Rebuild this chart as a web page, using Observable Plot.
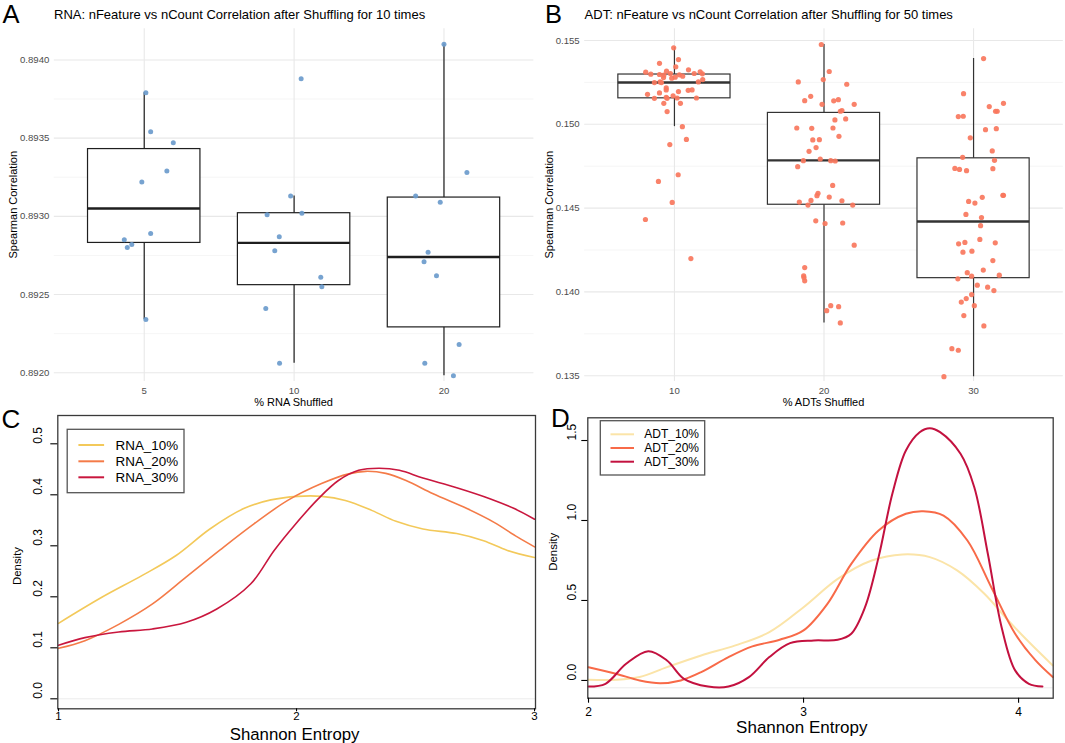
<!DOCTYPE html>
<html><head><meta charset="utf-8">
<script src="https://cdn.jsdelivr.net/npm/d3@7"></script>
<script src="https://cdn.jsdelivr.net/npm/@observablehq/plot@0.6"></script>
<style>
html,body{margin:0;padding:0;background:#fff;}
#root{position:relative;width:1065px;height:743px;overflow:hidden;background:#fff;font-family:"Liberation Sans",Arial,Helvetica,sans-serif;}
#root svg{position:absolute;}
</style></head>
<body><div id="root"></div>
<script>
// ---------------- Panel A data (RNA) ----------------
const rnaGroups = ["5", "10", "20"];
const rnaJitter5  = [0.011, 0.043, 0.194, 0.151, -0.016, 0.043, -0.133, -0.113, -0.083, 0.011];
const rnaValues5  = [0.89379, 0.89354, 0.89347, 0.89329, 0.89322, 0.89289, 0.89285, 0.89280, 0.89282, 0.89234];
const rnaJitter10 = [0.047, -0.023, -0.180, 0.052, -0.099, -0.129, 0.178, 0.185, -0.189, -0.097];
const rnaValues10 = [0.89388, 0.89313, 0.89301, 0.89302, 0.89287, 0.89278, 0.89261, 0.89255, 0.89241, 0.89206];
const rnaJitter20 = [0.000, 0.153, -0.189, -0.025, -0.106, -0.133, -0.050, 0.101, -0.128, 0.063];
const rnaValues20 = [0.89410, 0.89328, 0.89313, 0.89309, 0.89277, 0.89271, 0.89262, 0.89218, 0.89206, 0.89198];
const rnaLo  = [0.89234, 0.89206, 0.89198];
const rnaQ1  = [0.89283, 0.89256, 0.89229];
const rnaMed = [0.89305, 0.89283, 0.89274];
const rnaQ3  = [0.89343, 0.89302, 0.89312];
const rnaHi  = [0.89379, 0.89313, 0.89410];
const rnaYTicks = [0.8920, 0.8925, 0.8930, 0.8935, 0.8940];
const rnaYMinor = [0.89225, 0.89275, 0.89325, 0.89375];

// ---------------- Panel B data (ADT) ----------------
const adtGroups = ["10", "20", "30"];
const adtJitter10 = [-0.005,0.027,-0.100,0.009,-0.192,-0.158,-0.053,-0.100,-0.071,-0.027,0.094,0.033,0.055,0.132,0.172,0.187,-0.073,-0.018,0.005,-0.134,-0.096,-0.087,0.160,0.189,-0.055,-0.055,0.027,0.092,0.118,-0.180,-0.100,-0.134,-0.055,-0.049,-0.009,0.018,0.147,-0.071,0.040,-0.049,0.053,0.080,-0.031,0.025,-0.107,-0.015,-0.194,0.110];
const adtValues10 = [0.15456,0.15386,0.15364,0.15343,0.15311,0.15299,0.15317,0.15297,0.15293,0.15303,0.15325,0.15295,0.15287,0.15303,0.15313,0.15301,0.15279,0.15275,0.15281,0.15249,0.15253,0.15249,0.15253,0.15267,0.15217,0.15205,0.15195,0.15203,0.15205,0.15179,0.15187,0.15155,0.15161,0.15155,0.15170,0.15157,0.15157,0.15125,0.15125,0.15076,0.14986,0.14910,0.14879,0.14699,0.14659,0.14534,0.14432,0.14199];
const adtJitter20 = [-0.018,0.035,-0.172,-0.005,0.152,-0.089,-0.129,-0.013,0.065,0.096,0.202,0.109,0.120,0.073,0.145,-0.182,-0.082,0.060,0.100,-0.075,-0.031,-0.053,-0.100,-0.138,-0.025,0.045,0.075,-0.176,0.058,-0.040,-0.047,0.035,-0.087,-0.165,0.120,-0.107,0.192,-0.055,0.007,0.125,0.202,-0.129,-0.136,-0.134,-0.129,0.045,0.098,0.018,0.109];
const adtValues20 = [0.15476,0.15315,0.15253,0.15267,0.15239,0.15167,0.15141,0.15119,0.15140,0.15147,0.15119,0.15078,0.15082,0.15026,0.15032,0.14978,0.14976,0.14978,0.14928,0.14907,0.14908,0.14861,0.14839,0.14783,0.14793,0.14783,0.14781,0.14747,0.14635,0.14588,0.14574,0.14566,0.14546,0.14536,0.14544,0.14518,0.14518,0.14424,0.14408,0.14411,0.14279,0.14145,0.14096,0.14086,0.14066,0.13918,0.13912,0.13888,0.13815];
const adtJitter30 = [0.200,0.105,0.147,0.158,-0.102,-0.069,0.080,0.152,-0.022,0.125,-0.073,0.140,-0.125,-0.094,-0.047,0.129,0.196,0.200,0.058,-0.033,0.009,-0.051,0.053,0.047,0.042,-0.100,-0.058,0.145,-0.071,-0.011,0.129,0.065,-0.042,-0.013,-0.105,0.172,0.025,0.094,0.136,-0.013,-0.049,-0.082,0.005,-0.065,0.069,-0.145,-0.102,-0.198,0.067,-0.067];
const adtValues30 = [0.15125,0.15106,0.15078,0.15078,0.15046,0.15048,0.14968,0.14974,0.14919,0.14841,0.14803,0.14785,0.14737,0.14731,0.14723,0.14735,0.14576,0.14576,0.14564,0.14540,0.14530,0.14462,0.14444,0.14395,0.14313,0.14287,0.14295,0.14293,0.14237,0.14243,0.14187,0.14130,0.14115,0.14094,0.14078,0.14100,0.14040,0.14028,0.14008,0.13984,0.13960,0.13939,0.13918,0.13859,0.13797,0.13661,0.13652,0.13494,0.15392,0.15183];
const adtLo  = [0.14986, 0.13815, 0.13494];
const adtQ1  = [0.15155, 0.14520, 0.14082];
const adtMed = [0.15249, 0.14785, 0.14420];
const adtQ3  = [0.15297, 0.15068, 0.14797];
const adtHi  = [0.15458, 0.15476, 0.15392];
const adtYTicks = [0.135, 0.140, 0.145, 0.150, 0.155];
const adtYMinor = [0.1375, 0.1425, 0.1475, 0.1525];

// ---------------- Panel C data (RNA entropy densities) ----------------
const rnaSeries = ["RNA_10%", "RNA_20%", "RNA_30%"];
const rnaColors = ["#f3c95a", "#f47b48", "#c9173e"];
const rna10X = [1.0,1.182,1.352,1.494,1.636,1.778,1.892,2.006,2.105,2.205,2.318,2.418,2.531,2.673,2.786,2.886,3.0];
const rna10Y = [0.148,0.199,0.242,0.281,0.333,0.373,0.390,0.397,0.397,0.389,0.369,0.348,0.333,0.324,0.310,0.291,0.277];
const rna20X = [1.0,1.111,1.253,1.395,1.537,1.679,1.821,1.963,2.105,2.219,2.290,2.375,2.460,2.574,2.716,2.830,2.929,3.0];
const rna20Y = [0.099,0.114,0.146,0.186,0.239,0.292,0.343,0.389,0.422,0.441,0.446,0.442,0.428,0.402,0.373,0.346,0.317,0.298];
const rna30X = [1.0,1.111,1.253,1.395,1.537,1.665,1.807,1.906,1.991,2.091,2.176,2.261,2.347,2.432,2.531,2.673,2.815,2.915,3.0];
const rna30Y = [0.105,0.120,0.131,0.137,0.150,0.176,0.225,0.291,0.340,0.392,0.428,0.448,0.452,0.448,0.433,0.414,0.392,0.373,0.352];
const cXTicks = [1, 2, 3];
const cYTicks = [0, 0.1, 0.2, 0.3, 0.4, 0.5];
const cBaseline = [0];

// ---------------- Panel D data (ADT entropy densities) ----------------
const adtSeries = ["ADT_10%", "ADT_20%", "ADT_30%"];
const adtColors = ["#fbe4a8", "#f86a48", "#c3113f"];
const adt10X = [2.0,2.127,2.238,2.365,2.524,2.683,2.841,3.0,3.159,3.317,3.460,3.587,3.714,3.841,3.952,4.048,4.159];
const adt10Y = [0.004,0.004,0.021,0.083,0.156,0.219,0.302,0.458,0.635,0.750,0.788,0.771,0.688,0.542,0.375,0.240,0.094];
const adt20X = [2.0,2.127,2.238,2.333,2.429,2.524,2.651,2.762,2.889,3.0,3.111,3.222,3.349,3.476,3.556,3.651,3.762,3.873,3.984,4.079,4.159];
const adt20Y = [0.083,0.042,0.0,-0.017,0.0,0.052,0.146,0.213,0.254,0.313,0.479,0.729,0.938,1.042,1.058,1.031,0.875,0.583,0.292,0.125,0.021];
const adt30X = [2.0,2.079,2.175,2.278,2.365,2.444,2.556,2.651,2.746,2.841,2.937,3.048,3.159,3.222,3.286,3.349,3.413,3.476,3.540,3.587,3.635,3.730,3.794,3.857,3.921,3.984,4.048,4.111];
const adt30Y = [-0.038,-0.021,0.104,0.183,0.125,0.010,-0.038,-0.038,0.021,0.146,0.233,0.250,0.254,0.292,0.458,0.771,1.167,1.438,1.552,1.577,1.552,1.417,1.208,0.792,0.333,0.063,-0.021,-0.038];
const dXTicks = [2, 3, 4];
const dYTicks = [0, 0.5, 1.0, 1.5];
const dBaseline = [-0.046];

// ---------------- helpers ----------------
const root = document.getElementById("root");
const FONT = "Liberation Sans, Arial, Helvetica, sans-serif";
function put(el, left, top) { el.style.left = left + "px"; el.style.top = top + "px"; root.appendChild(el); }

function boxPanel(o) {
  const pts = [];
  o.jitters.forEach((js, gi) => js.forEach((j, k) => pts.push({x: gi + 1 + j, y: o.values[gi][k]})));
  const stats = o.groups.map((g, gi) => ({i: gi + 1, lo: o.lo[gi], q1: o.q1[gi], med: o.med[gi], q3: o.q3[gi], hi: o.hi[gi]}));
  const hw = 0.375;
  return Plot.plot({
    width: o.width, height: o.height,
    marginLeft: o.ml, marginRight: o.mr, marginTop: o.mt, marginBottom: o.mb,
    x: {type: "linear", domain: [0.4, 3.6]},
    y: {domain: o.yDomain},
    style: {fontFamily: FONT, fontSize: "9.6px", color: "#4d4d4d", background: "transparent", overflow: "visible"},
    marks: [
      Plot.ruleY(o.yMinor, {stroke: "#f0f0f0", strokeWidth: 0.7}),
      Plot.ruleY(o.yTicks, {stroke: "#e8e8e8", strokeWidth: 1.1}),
      Plot.ruleX([1, 2, 3], {stroke: "#e8e8e8", strokeWidth: 1.1}),
      Plot.axisY({ticks: o.yTicks, tickSize: 0, tickPadding: 5, tickFormat: o.fmt, label: null, fontSize: 9.6}),
      Plot.axisX({ticks: [1, 2, 3], tickSize: 0, tickPadding: 6, tickFormat: i => o.groups[i - 1], label: null, fontSize: 9.6}),
      Plot.ruleX(stats, {x: "i", y1: "lo", y2: "hi", stroke: o.boxStroke, strokeWidth: 1.2}),
      Plot.rect(stats, {x1: d => d.i - hw, x2: d => d.i + hw, y1: "q1", y2: "q3", fill: "white", stroke: o.boxStroke, strokeWidth: 1.2}),
      Plot.ruleY(stats, {y: "med", x1: d => d.i - hw, x2: d => d.i + hw, stroke: o.boxStroke, strokeWidth: 2.4}),
      Plot.dot(pts, {x: "x", y: "y", r: o.r, fill: o.color, fillOpacity: 0.92, stroke: "none"})
    ]
  });
}

function densityPanel(o) {
  const rows = [];
  o.series.forEach((s, si) => o.xs[si].forEach((x, k) => rows.push({s, x, y: o.ys[si][k]})));
  return Plot.plot({
    width: o.width, height: o.height,
    marginLeft: o.ml, marginRight: o.mr, marginTop: o.mt, marginBottom: o.mb,
    x: {domain: o.xDomain},
    y: {domain: o.yDomain},
    color: {domain: o.series, range: o.colors},
    style: {fontFamily: FONT, fontSize: "12px", color: "black", background: "transparent", overflow: "visible"},
    marks: [
      Plot.ruleY(o.baseline, {stroke: "#ececec", strokeWidth: 1}),
      Plot.line(rows, {x: "x", y: "y", z: "s", stroke: "s", curve: "catmull-rom", strokeWidth: o.sw}),
      Plot.frame({stroke: "#3a3a3a", strokeWidth: 1.3}),
      Plot.axisY({ticks: o.yTicks, tickSize: o.yTickSize, tickFormat: () => "", label: null, strokeWidth: 1.1}),
      Plot.text(o.yTicks, {y: d => d, text: d => d.toFixed(1), frameAnchor: "left", dx: o.yLabelDx, rotate: -90, fontSize: 12, fill: "black"}),
      Plot.axisX({ticks: o.xTicks, tickSize: o.xTickSize, tickPadding: o.xPad, tickFormat: d => String(d), label: null, fontSize: o.xFont, strokeWidth: 1.1})
    ]
  });
}

// ---------------- build panels ----------------
const A = boxPanel({
  groups: rnaGroups, jitters: [rnaJitter5, rnaJitter10, rnaJitter20], values: [rnaValues5, rnaValues10, rnaValues20],
  lo: rnaLo, q1: rnaQ1, med: rnaMed, q3: rnaQ3, hi: rnaHi,
  yTicks: rnaYTicks, yMinor: rnaYMinor, yDomain: [0.891944, 0.894199], fmt: d3.format(".4f"),
  color: "#6b9bcc", r: 2.5, boxStroke: "#1e1e1e",
  width: 535, height: 410, ml: 53.8, mr: 1.6, mt: 28.3, mb: 29
});
put(A, 0, 0);

const B = boxPanel({
  groups: adtGroups, jitters: [adtJitter10, adtJitter20, adtJitter30], values: [adtValues10, adtValues20, adtValues30],
  lo: adtLo, q1: adtQ1, med: adtMed, q3: adtQ3, hi: adtHi,
  yTicks: adtYTicks, yMinor: adtYMinor, yDomain: [0.134654, 0.155698], fmt: d3.format(".3f"),
  color: "#f8775d", r: 2.6, boxStroke: "#333333",
  width: 535, height: 410, ml: 54.2, mr: 2.2, mt: 28.3, mb: 29
});
put(B, 530, 0);

const C = densityPanel({
  series: rnaSeries, colors: rnaColors, xs: [rna10X, rna20X, rna30X], ys: [rna10Y, rna20Y, rna30Y],
  xDomain: [0.997, 3.004], yDomain: [-0.0196, 0.5555], xTicks: cXTicks, yTicks: cYTicks, baseline: cBaseline,
  sw: 1.6, yTickSize: 7, yLabelDx: -20, xTickSize: 3, xPad: 0, xFont: 11.5,
  width: 545, height: 343, ml: 57.3, mr: 10, mt: 15, mb: 34.7
});
put(C, 0, 400);

const D = densityPanel({
  series: adtSeries, colors: adtColors, xs: [adt10X, adt20X, adt30X], ys: [adt10Y, adt20Y, adt30Y],
  xDomain: [1.9967, 4.161], yDomain: [-0.111, 1.642], xTicks: dXTicks, yTicks: dYTicks, baseline: dBaseline,
  sw: 2, yTickSize: 6, yLabelDx: -15.7, xTickSize: 5, xPad: 4, xFont: 12,
  width: 535, height: 343, ml: 57.3, mr: 12.3, mt: 17.3, mb: 45.3
});
put(D, 530, 400);

// ---------------- overlay text: titles, panel letters, axis titles, legends ----------------
const NS = "http://www.w3.org/2000/svg";
const ov = document.createElementNS(NS, "svg");
ov.setAttribute("width", 1065); ov.setAttribute("height", 743);
ov.style.left = "0px"; ov.style.top = "0px"; ov.style.fontFamily = FONT;
root.appendChild(ov);
function txt(s, x, y, size, opts = {}) {
  const t = document.createElementNS(NS, "text");
  t.textContent = s;
  t.setAttribute("x", x); t.setAttribute("y", y);
  t.setAttribute("font-size", size);
  t.setAttribute("fill", opts.fill || "#000");
  if (opts.anchor) t.setAttribute("text-anchor", opts.anchor);
  if (opts.middle) t.setAttribute("dominant-baseline", "central");
  if (opts.rotate) t.setAttribute("transform", `rotate(${opts.rotate} ${x} ${y})`);
  ov.appendChild(t);
}
function el(tag, attrs) { const e = document.createElementNS(NS, tag); for (const k in attrs) e.setAttribute(k, attrs[k]); ov.appendChild(e); }

txt("A", 2.5, 23.3, 25.5);
txt("B", 545, 23.3, 25.5);
txt("C", 1.5, 428, 26);
txt("D", 551, 427, 26);
txt("RNA: nFeature vs nCount Correlation after Shuffling for 10 times", 54, 18.7, 13);
txt("ADT: nFeature vs nCount Correlation after Shuffling for 50 times", 584.6, 18.7, 13);
txt("Spearman Correlation", 12.8, 204.7, 11, {anchor: "middle", middle: true, rotate: -90});
txt("Spearman Correlation", 548.8, 204.7, 11, {anchor: "middle", middle: true, rotate: -90});
txt("% RNA Shuffled", 293.6, 401.7, 11, {anchor: "middle", middle: true});
txt("% ADTs Shuffled", 823.5, 402.3, 11, {anchor: "middle", middle: true});
txt("Density", 16.9, 566, 11.4, {anchor: "middle", middle: true, rotate: -90});
txt("Density", 553.2, 551.7, 11.4, {anchor: "middle", middle: true, rotate: -90});
txt("Shannon Entropy", 294.6, 734, 16.8, {anchor: "middle", middle: true});
txt("Shannon Entropy", 801.8, 727.8, 17, {anchor: "middle", middle: true});

function legend(box, lineX1, lineX2, textX, rowsY, labels, colors, size, sw) {
  el("rect", {x: box[0], y: box[1], width: box[2], height: box[3], fill: "white", stroke: "#555", "stroke-width": 1.3});
  labels.forEach((lab, i) => {
    el("line", {x1: lineX1, x2: lineX2, y1: rowsY[i], y2: rowsY[i], stroke: colors[i], "stroke-width": sw});
    txt(lab, textX, rowsY[i], size, {middle: true});
  });
}
legend([67.2, 429.3, 116.8, 63.4], 78.4, 104.1, 115.6, [445, 461.3, 477.3], rnaSeries, rnaColors, 13.4, 2);
legend([600.3, 420.7, 104.4, 54.3], 610.5, 634, 644.3, [434.3, 448, 461.7], adtSeries, adtColors, 12, 2);
</script>
</body></html>
